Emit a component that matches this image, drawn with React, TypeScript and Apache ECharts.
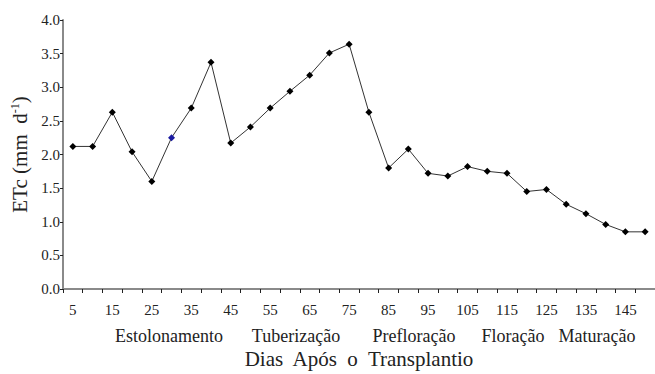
import { useEffect, useRef } from "react";
import * as echarts from "echarts";

const days = [5, 10, 15, 20, 25, 30, 35, 40, 45, 50, 55, 60, 65, 70, 75, 80, 85, 90, 95, 100, 105, 110, 115, 120, 125, 130, 135, 140, 145, 150];
const etc = [2.12, 2.12, 2.63, 2.04, 1.6, 2.25, 2.69, 3.37, 2.17, 2.41, 2.69, 2.94, 3.18, 3.51, 3.64, 2.63, 1.8, 2.08, 1.72, 1.68, 1.82, 1.75, 1.72, 1.45, 1.48, 1.26, 1.12, 0.96, 0.85, 0.85];
const blueDay = 30;
const phases = ["Estolonamento", "Tuberização", "Prefloração", "Floração", "Maturação"];
const phaseX = [169, 296, 414, 513, 597];

const FONT = "'Liberation Serif', 'Times New Roman', serif";

export default function App() {
  const ref = useRef<HTMLDivElement>(null);
  useEffect(() => {
    document.body.style.margin = "0";
    const chart = echarts.init(ref.current!, undefined, { renderer: "svg" });
    chart.setOption({
      animation: false,
      backgroundColor: "#ffffff",
      textStyle: { fontFamily: FONT },
      grid: { left: 63, right: -8, top: 20, bottom: 81, containLabel: false },
      xAxis: {
        type: "category",
        data: days.map(String),
        boundaryGap: true,
        name: "Dias  Após  o  Transplantio",
        nameLocation: "middle",
        nameGap: 59,
        nameTextStyle: { fontFamily: FONT, fontSize: 21, color: "#222" },
        axisLine: { lineStyle: { color: "#8a8a8a", width: 2 } },
        axisTick: { show: true, interval: 0, length: 4, lineStyle: { color: "#222", width: 1 } },
        axisLabel: { interval: 1, fontFamily: FONT, fontSize: 15, color: "#222", margin: 13 },
        splitLine: { show: false },
      },
      yAxis: {
        type: "value",
        min: 0,
        max: 4,
        interval: 0.5,
        name: "ETc (mm  d{sup|-1})",
        nameLocation: "middle",
        nameGap: 26,
        nameTextStyle: {
          fontFamily: FONT,
          fontSize: 21,
          color: "#222",
          rich: { sup: { fontFamily: FONT, fontSize: 12, color: "#222", padding: [0, 0, 10, 0] } },
        },
        axisLine: { show: true, lineStyle: { color: "#8a8a8a", width: 2 } },
        axisTick: { show: true, length: 3, lineStyle: { color: "#222", width: 1 } },
        axisLabel: { fontFamily: FONT, fontSize: 15, color: "#222", margin: 3, formatter: (v: number) => v.toFixed(1) },
        splitLine: { show: false },
      },
      series: [
        {
          type: "line",
          data: etc.map((v, i) =>
            days[i] === blueDay ? { value: v, itemStyle: { color: "#1a1aa0" } } : v
          ),
          symbol: "diamond",
          symbolSize: 7,
          showSymbol: true,
          lineStyle: { color: "#333", width: 1 },
          itemStyle: { color: "#000" },
        },
      ],
      graphic: phases.map((p, i) => ({
        type: "text",
        x: phaseX[i],
        y: 336,
        style: {
          text: p,
          fontFamily: FONT,
          fontSize: 18,
          fill: "#222",
          textAlign: "center",
          textVerticalAlign: "middle",
        },
      })),
    });
    return () => chart.dispose();
  }, []);
  return <div ref={ref} style={{ width: 655, height: 374 }} />;
}
